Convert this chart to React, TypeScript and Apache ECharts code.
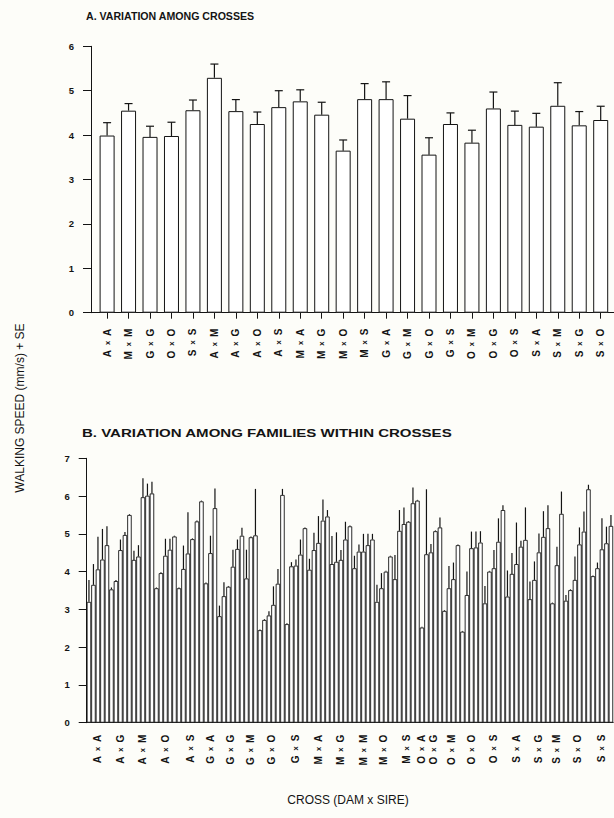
import React, { useEffect, useRef } from 'react';
import * as echarts from 'echarts';

// Panel A: variation among crosses
const crossesA = ['AxA', 'MxM', 'GxG', 'OxO', 'SxS', 'AxM', 'AxG', 'AxO', 'AxS', 'MxA', 'MxG', 'MxO', 'MxS', 'GxA', 'GxM', 'GxO', 'GxS', 'OxM', 'OxG', 'OxS', 'SxA', 'SxM', 'SxG', 'SxO'];
const speedA = [3.99, 4.55, 3.96, 3.98, 4.56, 5.29, 4.54, 4.25, 4.63, 4.76, 4.46, 3.65, 4.81, 4.81, 4.37, 3.56, 4.25, 3.83, 4.6, 4.23, 4.19, 4.66, 4.22, 4.34];
const seA = [0.29, 0.16, 0.24, 0.31, 0.23, 0.31, 0.26, 0.27, 0.37, 0.26, 0.28, 0.24, 0.35, 0.39, 0.52, 0.38, 0.25, 0.28, 0.37, 0.31, 0.3, 0.52, 0.31, 0.31];

// Panel B: variation among families within crosses
const crossesB = ['AxA', 'AxG', 'AxM', 'AxO', 'AxS', 'GxA', 'GxG', 'GxM', 'GxO', 'GxS', 'MxA', 'MxG', 'MxM', 'MxO', 'MxS', 'OxA', 'OxG', 'OxM', 'OxO', 'OxS', 'SxA', 'SxG', 'SxM', 'SxO', 'SxS'];
const familiesPerCross = [5, 5, 5, 5, 6, 3, 6, 3, 6, 5, 5, 5, 5, 4, 6, 1, 4, 4, 5, 5, 5, 5, 3, 6, 5];
const speedB = [
  3.2, 3.65, 4.06, 4.32, 4.7,
  3.53, 3.75, 4.57, 4.97, 5.5,
  4.31, 4.4, 5.97, 6.01, 6.07,
  3.56, 3.96, 4.42, 4.58, 4.93,
  3.56, 4.07, 4.48, 4.86, 5.33, 5.86,
  3.69, 4.49, 5.68,
  2.82, 3.35, 3.6, 4.13, 4.6, 4.95,
  3.82, 4.91, 4.96,
  2.45, 2.72, 2.84, 3.12, 3.68, 6.03,
  2.61, 4.14, 4.16, 4.45, 5.15,
  4.05, 4.57, 4.76, 5.35, 5.46,
  4.2, 4.26, 4.31, 4.85, 5.2,
  4.09, 4.53, 4.53, 4.7, 4.85,
  3.2, 3.56, 4.0, 4.4,
  3.8, 5.08, 5.26, 5.32, 5.81, 5.88,
  2.52,
  4.46, 4.51, 5.07, 5.17,
  2.96, 3.56, 3.8, 4.7,
  2.41, 3.38, 4.62, 4.64, 4.77,
  3.16, 4.0, 4.09, 4.79, 5.63,
  3.34, 3.94, 4.2, 4.66, 4.84,
  3.27, 3.78, 4.51, 4.92, 5.15,
  3.16, 4.17, 5.53,
  3.23, 3.51, 3.78, 4.72, 5.06, 6.18,
  3.88, 4.09, 4.59, 4.75, 5.21,
];
const seB = [
  0.58, 0.55, 0.86, 0.81, 0.5,
  0.05, 0.03, 0.28, 0.08, 0.02,
  0.24, 0.3, 0.5, 0.32, 0.31,
  0.02, 0.02, 0.45, 0.29, 0.02,
  0.02, 0.62, 1.09, 0.02, 0.02, 0.02,
  0.02, 0.46, 0.52,
  0.28, 0.37, 0.02, 0.45, 0.25, 0.21,
  0.76, 0.02, 1.23,
  0.02, 0.02, 0.11, 0.49, 0.39, 0.16,
  0.02, 0.11, 0.16, 0.4, 0.02,
  0.29, 0.46, 0.71, 0.56, 0.17,
  0.74, 0.78, 0.26, 0.47, 0.02,
  0.33, 0.19, 0.47, 0.3, 0.15,
  0.45, 0.4, 0.02, 0.02,
  0.64, 0.55, 0.44, 0.02, 0.42, 0.02,
  0.02,
  1.72, 0.22, 0.02, 0.26,
  0.02, 0.59, 0.44, 0.02,
  0.02, 0.62, 0.44, 0.42, 0.3,
  0.46, 0.02, 0.48, 0.62, 0.13,
  0.69, 0.55, 1.1, 0.16, 0.86,
  0.47, 0.49, 0.5, 0.68, 0.61,
  0.02, 0.49, 0.59,
  0.15, 0.02, 0.62, 0.45, 0.53, 0.12,
  0.02, 0.15, 0.82, 0.44, 0.29,
];

const titleA = 'A. VARIATION AMONG CROSSES';
const titleB = 'B. VARIATION AMONG FAMILIES WITHIN CROSSES';
const yTitle = 'WALKING SPEED (mm/s) + SE';
const xTitle = 'CROSS (DAM x SIRE)';

export default function App() {
  const ref = useRef<HTMLDivElement>(null);

  useEffect(() => {
    const chart = echarts.init(ref.current as HTMLDivElement, null, { renderer: 'svg' });
    const font = "'Liberation Sans', Arial, Helvetica, sans-serif";
    const ink = '#141414';

    const idxA = crossesA.map((_, i) => i);
    const centersB: number[] = [];
    const labelAt = new Map<number, string>();
    let start = 0;
    familiesPerCross.forEach((n, k) => {
      const c = start + (n - 1) / 2;
      centersB.push(c);
      labelAt.set(c, crossesB[k]);
      start += n;
    });
    const nB = speedB.length;

    const rich = {
      L: { fontFamily: font, fontWeight: 'bold', fontSize: 10, color: ink },
      X: { fontFamily: font, fontWeight: 'bold', fontSize: 7.5, color: ink, padding: [0, 5, 0, 5] },
    };
    const fmt = (s: string) => (s ? `{L|${s[0]}}{X|x}{L|${s[2]}}` : '');

    const errRender = (cap: number) => (params: any, api: any) => {
      const x = api.value(0);
      const v = api.value(1);
      const se = api.value(2);
      const p0 = api.coord([x, v]);
      const p1 = api.coord([x, v + se]);
      const children: any[] = [
        { type: 'line', shape: { x1: p0[0], y1: p0[1], x2: p1[0], y2: p1[1] }, style: { stroke: ink, lineWidth: 1.2 } },
      ];
      if (cap > 0) {
        children.push({ type: 'line', shape: { x1: p1[0] - cap / 2, y1: p1[1], x2: p1[0] + cap / 2, y2: p1[1] }, style: { stroke: ink, lineWidth: 1.2 } });
      }
      return { type: 'group', children };
    };

    const yAxisCommon = {
      type: 'value',
      axisLine: { show: true, onZero: false, lineStyle: { color: ink, width: 1 } },
      axisTick: { show: true, length: 8, lineStyle: { color: ink, width: 1 } },
      axisLabel: { fontFamily: font, fontWeight: 'bold', fontSize: 9.5, color: ink, margin: 17 },
      splitLine: { show: false },
    };

    chart.setOption({
      animation: false,
      backgroundColor: '#fdfdf9',
      grid: [
        { left: 91, top: 46.3, width: 523, height: 266.4 },
        { left: 86.7, top: 458.3, width: 526.5, height: 264.4 },
      ],
      xAxis: [
        {
          gridIndex: 0,
          type: 'value',
          min: -0.75,
          max: 23.62,
          axisLine: { show: true, onZero: false, lineStyle: { color: ink, width: 1 } },
          axisTick: { show: true, customValues: idxA, length: 6, lineStyle: { color: ink } },
          axisLabel: {
            customValues: idxA,
            rotate: 90,
            margin: 16,
            formatter: (v: number) => fmt(crossesA[Math.round(v)]),
            rich,
          },
          splitLine: { show: false },
        },
        {
          gridIndex: 1,
          type: 'category',
          data: speedB.map((_, i) => String(i)),
          boundaryGap: true,
          axisLine: { show: true, onZero: false, lineStyle: { color: ink, width: 1 } },
          axisTick: { show: false },
          axisLabel: { show: false },
        },
        {
          gridIndex: 1,
          type: 'value',
          position: 'bottom',
          min: -0.5,
          max: nB - 0.5,
          axisLine: { show: false, onZero: false },
          axisTick: { show: false },
          axisLabel: {
            customValues: centersB,
            rotate: 90,
            margin: 12,
            formatter: (v: number) => fmt(labelAt.get(v) || ''),
            rich,
          },
          splitLine: { show: false },
        },
      ],
      yAxis: [
        { ...yAxisCommon, gridIndex: 0, min: 0, max: 6, interval: 1 },
        { ...yAxisCommon, gridIndex: 1, min: 0, max: 7, interval: 1 },
      ],
      series: [
        {
          type: 'bar',
          xAxisIndex: 0,
          yAxisIndex: 0,
          barWidth: 15,
          data: speedA.map((v, i) => [i, v]),
          itemStyle: { color: '#ffffff', borderColor: ink, borderWidth: 1 },
        },
        {
          type: 'custom',
          xAxisIndex: 0,
          yAxisIndex: 0,
          clip: false,
          data: speedA.map((v, i) => [i, v, seA[i]]),
          renderItem: errRender(8),
          z: 5,
        },
        {
          type: 'bar',
          xAxisIndex: 1,
          yAxisIndex: 1,
          barCategoryGap: '0%',
          data: speedB,
          itemStyle: { color: '#ffffff', borderColor: ink, borderWidth: 0.9 },
        },
        {
          type: 'custom',
          xAxisIndex: 2,
          yAxisIndex: 1,
          clip: false,
          data: speedB.map((v, i) => [i, v, seB[i]]),
          renderItem: errRender(0),
          z: 5,
        },
      ],
      graphic: [
        { type: 'text', left: 86, top: 10, style: { text: titleA, font: `bold 10.6px ${font}`, fill: ink } },
        { type: 'text', x: 82, y: 428, scaleX: 1.42, style: { text: titleB, font: `bold 10.6px ${font}`, fill: ink } },
        {
          type: 'text', x: 20, y: 408, rotation: Math.PI / 2,
          style: { text: yTitle, font: `12px ${font}`, fill: ink, textAlign: 'center', textVerticalAlign: 'middle' },
        },
        {
          type: 'text', x: 348, y: 800,
          style: { text: xTitle, font: `12px ${font}`, fill: ink, textAlign: 'center', textVerticalAlign: 'middle' },
        },
      ],
    });

    return () => chart.dispose();
  }, []);

  return (
    <div
      ref={ref}
      style={{ position: 'fixed', left: 0, top: 0, width: 614, height: 818 }}
    />
  );
}
